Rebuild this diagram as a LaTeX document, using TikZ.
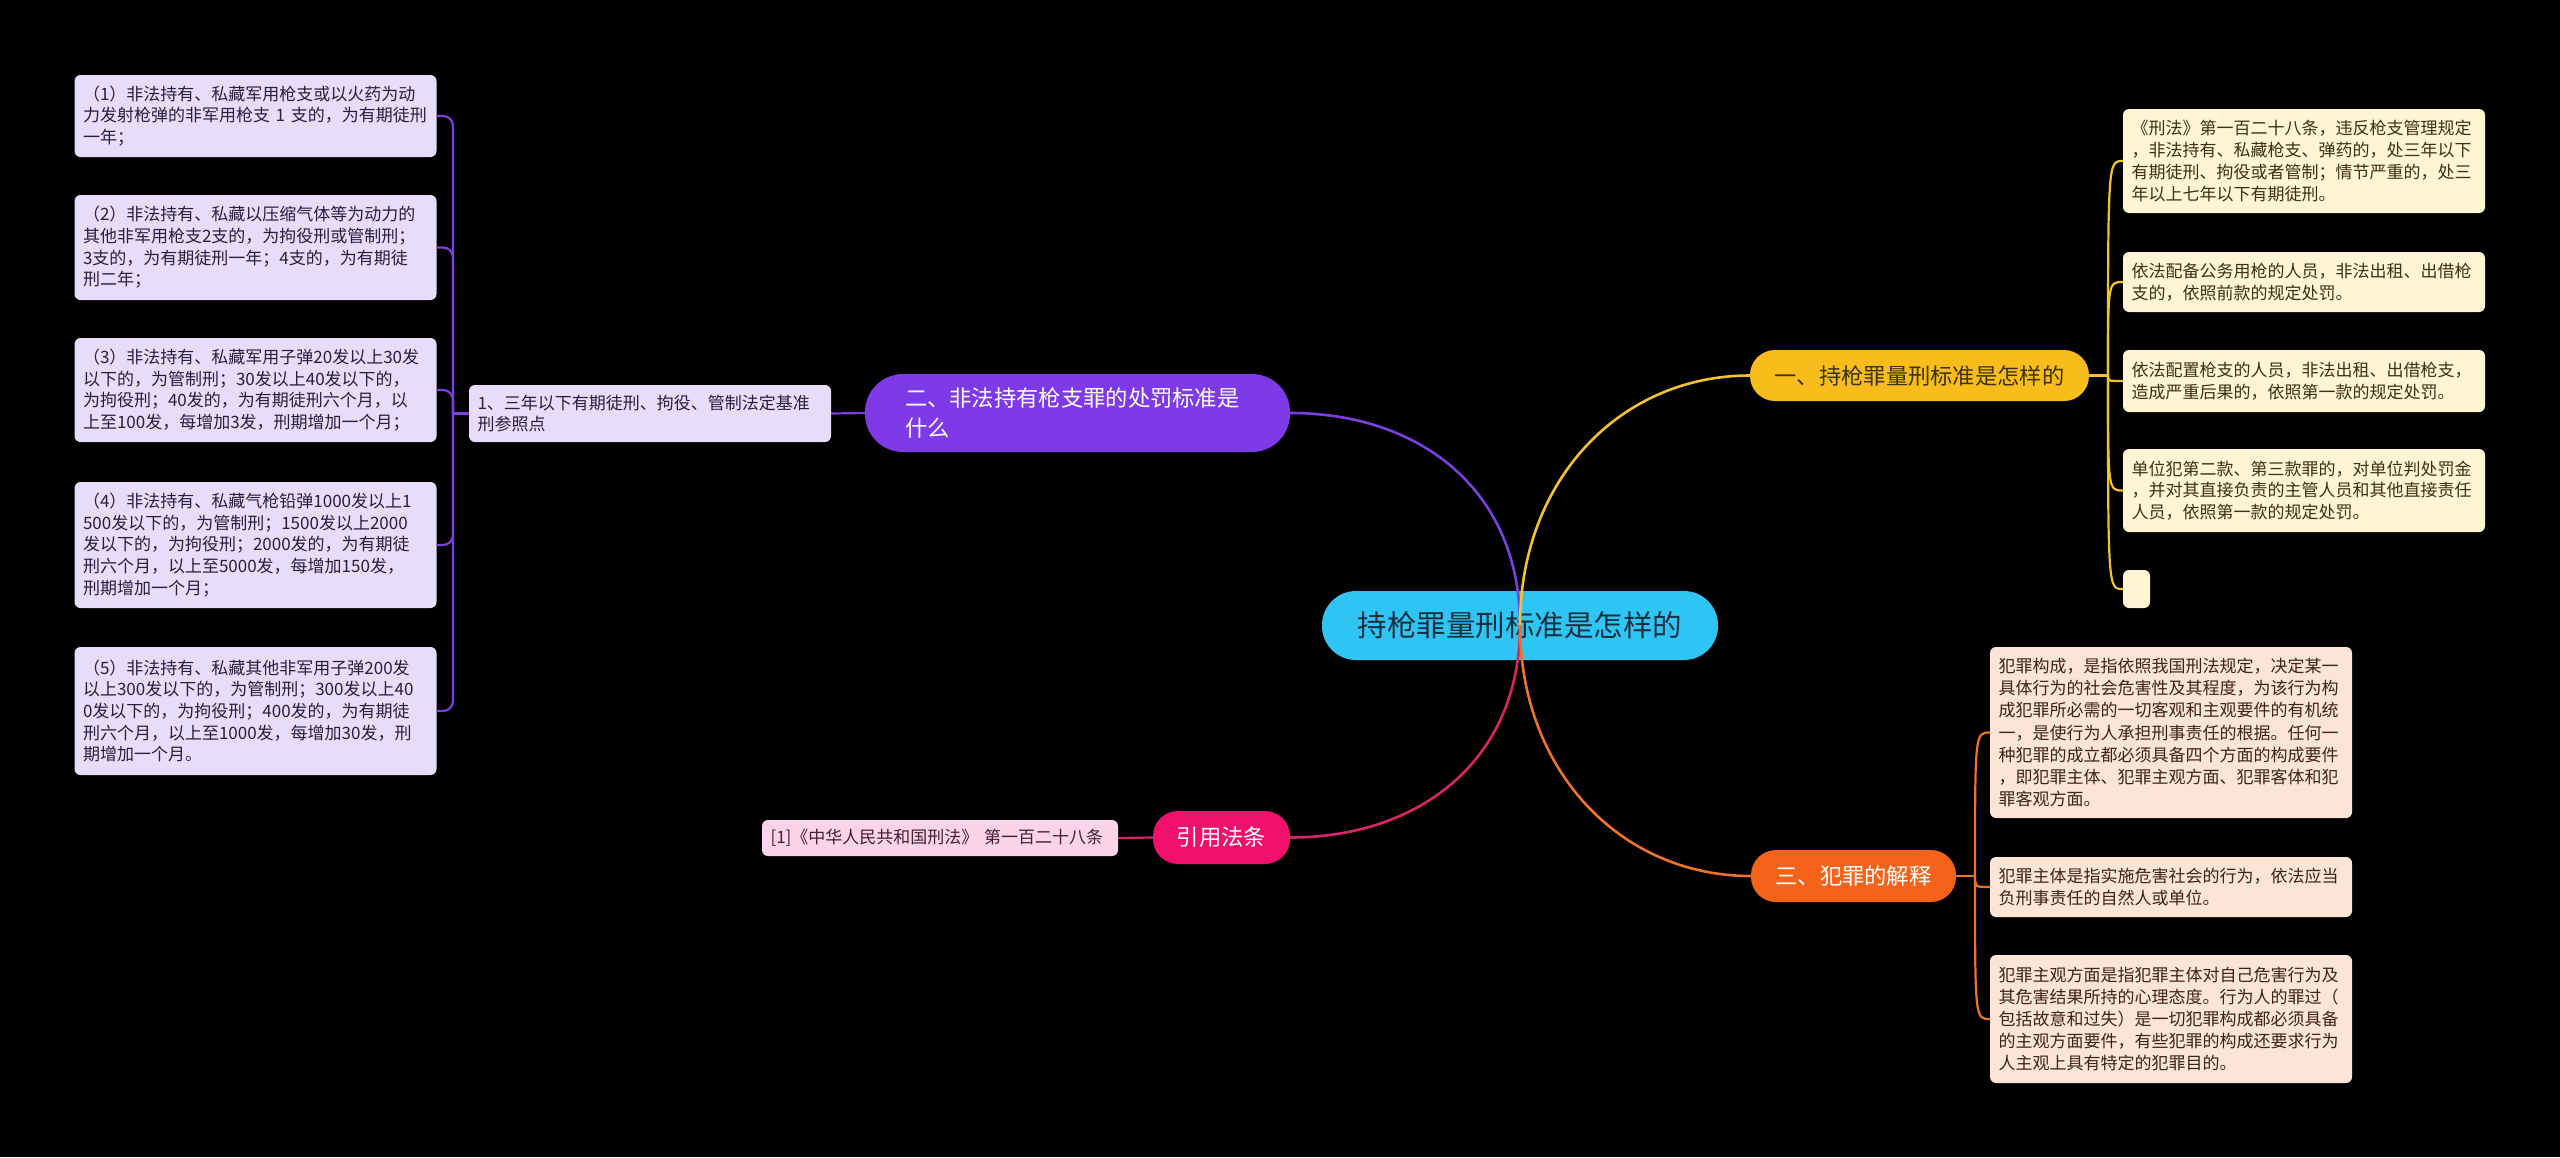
\documentclass[tikz,border=0pt]{standalone}
\usepackage{fontspec}
\setmainfont{Noto Sans CJK SC}
\definecolor{bg}{HTML}{000000}
\definecolor{cfill}{HTML}{2EC5F4}
\definecolor{ctext}{HTML}{17303F}
\definecolor{pfill}{HTML}{7E3AE6}
\definecolor{pline}{HTML}{7B3FDD}
\definecolor{plight}{HTML}{E8DCFB}
\definecolor{ptext}{HTML}{2A1D3D}
\definecolor{yfill}{HTML}{F8BD1B}
\definecolor{yline}{HTML}{F2C230}
\definecolor{ylight}{HTML}{FFF4D4}
\definecolor{ytext}{HTML}{3A3210}
\definecolor{ofill}{HTML}{F5621A}
\definecolor{oline}{HTML}{EE7328}
\definecolor{olight}{HTML}{FDE4D7}
\definecolor{otext}{HTML}{3E2418}
\definecolor{kfill}{HTML}{F2106C}
\definecolor{kline}{HTML}{D8246A}
\definecolor{klight}{HTML}{FCD4EA}
\definecolor{ktext}{HTML}{40202E}
\tikzset{
  root/.style={fill=cfill, text=ctext, rounded corners=34pt, minimum width=396pt, minimum height=69pt, inner sep=0pt, font=\fontsize{29.5}{34}\selectfont},
  topic/.style={rounded corners=25pt, inner sep=0pt, font=\fontsize{22.3}{30}\selectfont},
  leaf/.style={rounded corners=6pt, text width=345pt, inner xsep=8.5pt, inner ysep=0pt, align=left, font=\fontsize{17}{21.7}\selectfont},
  pleaf/.style={leaf, fill=plight, text=ptext},
  yleaf/.style={leaf, fill=ylight, text=ytext},
  oleaf/.style={leaf, fill=olight, text=otext, font=\fontsize{17}{22.2}\selectfont},
  mainline/.style={line width=2.6pt},
  subline/.style={line width=2.2pt},
}
\begin{document}
\begin{tikzpicture}[x=1pt,y=-1pt]
\fill[bg] (0,0) rectangle (2560,1157);
\useasboundingbox (0,0) rectangle (2560,1157);

% central
\node[root] (c) at (1520,625.5) {持枪罪量刑标准是怎样的};

% first level
\node[topic, fill=yfill, text=ytext, minimum width=339pt, minimum height=51pt] (b1) at (1919.5,375.5) {一、持枪罪量刑标准是怎样的};
\node[topic, fill=pfill, text=white, rounded corners=38pt, minimum width=425pt, minimum height=78pt, text width=345pt, align=left] (b2) at (1077.5,413) {二、非法持有枪支罪的处罚标准是\\什么};
\node[topic, fill=ofill, text=white, minimum width=205pt, minimum height=52pt] (b3) at (1853.5,876) {三、犯罪的解释};
\node[topic, fill=kfill, text=white, minimum width=137pt, minimum height=53pt] (b4) at (1221.5,837.5) {引用法条};

% purple branch
\node[pleaf, minimum height=57pt] (m) at (650,413.5) {1、三年以下有期徒刑、拘役、管制法定基准\\刑参照点};
\node[pleaf, minimum height=82pt] (l1) at (255.5,116) {（1）非法持有、私藏军用枪支或以火药为动\\力发射枪弹的非军用枪支 1 支的，为有期徒刑\\一年；};
\node[pleaf, minimum height=105pt] (l2) at (255.5,247.5) {（2）非法持有、私藏以压缩气体等为动力的\\其他非军用枪支2支的，为拘役刑或管制刑；\\3支的，为有期徒刑一年；4支的，为有期徒\\刑二年；};
\node[pleaf, minimum height=104pt] (l3) at (255.5,390) {（3）非法持有、私藏军用子弹20发以上30发\\以下的，为管制刑；30发以上40发以下的，\\为拘役刑；40发的，为有期徒刑六个月，以\\上至100发，每增加3发，刑期增加一个月；};
\node[pleaf, minimum height=126pt] (l4) at (255.5,545) {（4）非法持有、私藏气枪铅弹1000发以上1\\500发以下的，为管制刑；1500发以上2000\\发以下的，为拘役刑；2000发的，为有期徒\\刑六个月，以上至5000发，每增加150发，\\刑期增加一个月；};
\node[pleaf, minimum height=128pt] (l5) at (255.5,711) {（5）非法持有、私藏其他非军用子弹200发\\以上300发以下的，为管制刑；300发以上40\\0发以下的，为拘役刑；400发的，为有期徒\\刑六个月，以上至1000发，每增加30发，刑\\期增加一个月。};

% yellow branch
\node[yleaf, minimum height=104pt] (y1) at (2304,161) {《刑法》第一百二十八条，违反枪支管理规定\\，非法持有、私藏枪支、弹药的，处三年以下\\有期徒刑、拘役或者管制；情节严重的，处三\\年以上七年以下有期徒刑。};
\node[yleaf, minimum height=60pt] (y2) at (2304,282) {依法配备公务用枪的人员，非法出租、出借枪\\支的，依照前款的规定处罚。};
\node[yleaf, minimum height=62pt] (y3) at (2304,381) {依法配置枪支的人员，非法出租、出借枪支，\\造成严重后果的，依照第一款的规定处罚。};
\node[yleaf, minimum height=83pt] (y4) at (2304,490.5) {单位犯第二款、第三款罪的，对单位判处罚金\\，并对其直接负责的主管人员和其他直接责任\\人员，依照第一款的规定处罚。};
\node[fill=ylight, rounded corners=6pt, minimum width=27pt, minimum height=38pt, inner sep=0pt] (y5) at (2136.5,589) {};

% orange branch
\node[oleaf, minimum height=171pt] (o1) at (2171,732.5) {犯罪构成，是指依照我国刑法规定，决定某一\\具体行为的社会危害性及其程度，为该行为构\\成犯罪所必需的一切客观和主观要件的有机统\\一，是使行为人承担刑事责任的根据。任何一\\种犯罪的成立都必须具备四个方面的构成要件\\，即犯罪主体、犯罪主观方面、犯罪客体和犯\\罪客观方面。};
\node[oleaf, minimum height=60pt] (o2) at (2171,887) {犯罪主体是指实施危害社会的行为，依法应当\\负刑事责任的自然人或单位。};
\node[oleaf, minimum height=128pt] (o3) at (2171,1019) {犯罪主观方面是指犯罪主体对自己危害行为及\\其危害结果所持的心理态度。行为人的罪过（\\包括故意和过失）是一切犯罪构成都必须具备\\的主观方面要件，有些犯罪的构成还要求行为\\人主观上具有特定的犯罪目的。};

% pink branch
\node[leaf, fill=klight, text=ktext, text width=339pt, minimum height=36pt] (p1) at (940,838) {[1]《中华人民共和国刑法》 第一百二十八条};

% trunk coordinates
\coordinate (tp) at (453,413.5);
\coordinate (ty) at (2108,375.5);
\coordinate (to) at (1975,876);

% main connectors (on top of central node)
\draw[mainline, pline] (c.center) .. controls (1520,490) and (1420,413) .. (b2.east);
\draw[mainline, yline] (c.center) .. controls (1520,480) and (1620,375.5) .. (b1.west);
\draw[mainline, kline] (c.center) .. controls (1520,760) and (1420,837.5) .. (b4.east);
\draw[mainline, oline] (c.center) .. controls (1520,770) and (1620,876) .. (b3.west);

% purple sub connectors
\draw[subline, pline] (b2.west) -- (m.east);
\draw[subline, pline] (m.west) -- (tp);
\foreach \n in {l1,l2,l3,l4,l5} {
  \draw[subline, pline, rounded corners=10pt] (tp) |- (\n.east);
}

% yellow sub connectors
\draw[subline, yline] (b1.east) -- (ty);
\foreach \n in {y1,y2,y3,y4,y5} {
  \draw[subline, yline] (ty) .. controls (ty |- \n.west) .. (\n.west);
}

% orange sub connectors
\draw[subline, oline] (b3.east) -- (to);
\foreach \n in {o1,o2,o3} {
  \draw[subline, oline] (to) .. controls (to |- \n.west) .. (\n.west);
}

% pink sub connector
\draw[subline, kline] (b4.west) -- (p1.east);
\end{tikzpicture}
\end{document}
